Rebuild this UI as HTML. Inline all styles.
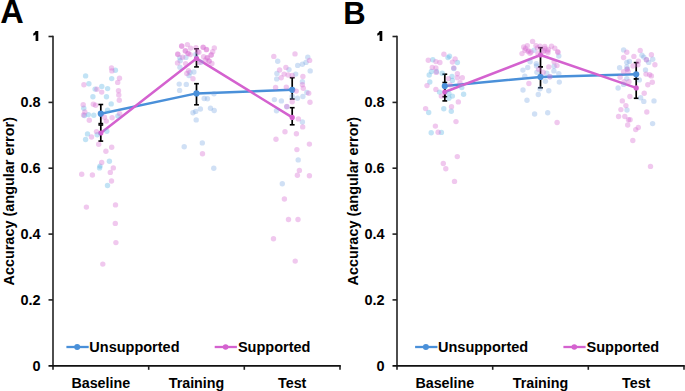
<!DOCTYPE html>
<html><head><meta charset="utf-8"><style>
html,body{margin:0;padding:0;background:#fff;}
svg{display:block;}
.t{font-family:"Liberation Sans", sans-serif;font-weight:bold;font-size:14px;fill:#000;}
.tk{font-size:14.5px;}
.ti{font-size:14.45px;}
.lg{font-size:14.5px;}
.cat{font-size:14.3px;}
.L{font-family:"Liberation Sans", sans-serif;font-weight:bold;font-size:32.5px;fill:#000;}
.db{fill:#5fb6e6;fill-opacity:.38;}
.dc{fill:#6ea0e1;fill-opacity:.32;}
.dp{fill:#d76ed2;fill-opacity:.38;}
</style></head><body>
<svg width="685" height="391" viewBox="0 0 685 391">
<line x1="53" y1="35.7" x2="53" y2="369.8" stroke="#3a3a3a" stroke-width="1.8"/>
<line x1="48.5" y1="36.5" x2="53" y2="36.5" stroke="#222" stroke-width="1.6"/>
<line x1="48.5" y1="365.8" x2="340.8" y2="365.8" stroke="#111" stroke-width="1.8"/>
<line x1="48.5" y1="299.9" x2="53" y2="299.9" stroke="#222" stroke-width="1.6"/>
<line x1="48.5" y1="234.1" x2="53" y2="234.1" stroke="#222" stroke-width="1.6"/>
<line x1="48.5" y1="168.2" x2="53" y2="168.2" stroke="#222" stroke-width="1.6"/>
<line x1="48.5" y1="102.4" x2="53" y2="102.4" stroke="#222" stroke-width="1.6"/>
<line x1="148.7" y1="365.8" x2="148.7" y2="369.8" stroke="#222" stroke-width="1.6"/>
<line x1="244.3" y1="365.8" x2="244.3" y2="369.8" stroke="#222" stroke-width="1.6"/>
<line x1="340.0" y1="365.8" x2="340.0" y2="369.8" stroke="#222" stroke-width="1.6"/>
<text x="40.7" y="370.5" text-anchor="end" class="t tk">0</text>
<text x="40.7" y="304.6" text-anchor="end" class="t tk">0.2</text>
<text x="40.7" y="238.8" text-anchor="end" class="t tk">0.4</text>
<text x="40.7" y="172.9" text-anchor="end" class="t tk">0.6</text>
<text x="40.7" y="107.1" text-anchor="end" class="t tk">0.8</text>
<path transform="translate(0,0)" d="M35.5 30.9 L38.3 30.9 L38.3 41.0 L35.6 41.0 L35.6 34.4 Q34.6 35.3 33.3 35.8 L33.3 33.4 Q35.0 32.6 35.5 30.9 Z" fill="#000"/>
<text x="100.8" y="387.6" text-anchor="middle" class="t cat">Baseline</text>
<text x="196.5" y="387.6" text-anchor="middle" class="t cat">Training</text>
<text x="292.2" y="387.6" text-anchor="middle" class="t cat">Test</text>
<text transform="translate(14.399999999999999,201.3) rotate(-90)" text-anchor="middle" class="t ti">Accuracy (angular error)</text>
<text x="0.2" y="22.8" class="L" style="font-size:32.5px">A</text>
<line x1="397" y1="35.7" x2="397" y2="369.8" stroke="#3a3a3a" stroke-width="1.8"/>
<line x1="392.5" y1="36.5" x2="397" y2="36.5" stroke="#222" stroke-width="1.6"/>
<line x1="392.5" y1="365.8" x2="684.8" y2="365.8" stroke="#111" stroke-width="1.8"/>
<line x1="392.5" y1="299.9" x2="397" y2="299.9" stroke="#222" stroke-width="1.6"/>
<line x1="392.5" y1="234.1" x2="397" y2="234.1" stroke="#222" stroke-width="1.6"/>
<line x1="392.5" y1="168.2" x2="397" y2="168.2" stroke="#222" stroke-width="1.6"/>
<line x1="392.5" y1="102.4" x2="397" y2="102.4" stroke="#222" stroke-width="1.6"/>
<line x1="492.7" y1="365.8" x2="492.7" y2="369.8" stroke="#222" stroke-width="1.6"/>
<line x1="588.3" y1="365.8" x2="588.3" y2="369.8" stroke="#222" stroke-width="1.6"/>
<line x1="684.0" y1="365.8" x2="684.0" y2="369.8" stroke="#222" stroke-width="1.6"/>
<text x="384.7" y="370.5" text-anchor="end" class="t tk">0</text>
<text x="384.7" y="304.6" text-anchor="end" class="t tk">0.2</text>
<text x="384.7" y="238.8" text-anchor="end" class="t tk">0.4</text>
<text x="384.7" y="172.9" text-anchor="end" class="t tk">0.6</text>
<text x="384.7" y="107.1" text-anchor="end" class="t tk">0.8</text>
<path transform="translate(344,0)" d="M35.5 30.9 L38.3 30.9 L38.3 41.0 L35.6 41.0 L35.6 34.4 Q34.6 35.3 33.3 35.8 L33.3 33.4 Q35.0 32.6 35.5 30.9 Z" fill="#000"/>
<text x="444.8" y="387.6" text-anchor="middle" class="t cat">Baseline</text>
<text x="540.5" y="387.6" text-anchor="middle" class="t cat">Training</text>
<text x="636.2" y="387.6" text-anchor="middle" class="t cat">Test</text>
<text transform="translate(358.4,201.3) rotate(-90)" text-anchor="middle" class="t ti">Accuracy (angular error)</text>
<text x="343.2" y="24.0" class="L" style="font-size:31px">B</text>
<line x1="100.8" y1="104.5" x2="100.8" y2="123.6" stroke="#000" stroke-width="1.7"/>
<line x1="98.4" y1="104.5" x2="103.2" y2="104.5" stroke="#000" stroke-width="1.6"/>
<line x1="98.4" y1="123.6" x2="103.2" y2="123.6" stroke="#000" stroke-width="1.6"/>
<line x1="196.5" y1="83.7" x2="196.5" y2="104.8" stroke="#000" stroke-width="1.7"/>
<line x1="194.1" y1="83.7" x2="198.9" y2="83.7" stroke="#000" stroke-width="1.6"/>
<line x1="194.1" y1="104.8" x2="198.9" y2="104.8" stroke="#000" stroke-width="1.6"/>
<line x1="292.2" y1="77.7" x2="292.2" y2="99.0" stroke="#000" stroke-width="1.7"/>
<line x1="289.8" y1="77.7" x2="294.6" y2="77.7" stroke="#000" stroke-width="1.6"/>
<line x1="289.8" y1="99.0" x2="294.6" y2="99.0" stroke="#000" stroke-width="1.6"/>
<line x1="100.8" y1="125.0" x2="100.8" y2="141.1" stroke="#000" stroke-width="1.7"/>
<line x1="98.4" y1="125.0" x2="103.2" y2="125.0" stroke="#000" stroke-width="1.6"/>
<line x1="98.4" y1="141.1" x2="103.2" y2="141.1" stroke="#000" stroke-width="1.6"/>
<line x1="196.5" y1="48.8" x2="196.5" y2="66.9" stroke="#000" stroke-width="1.7"/>
<line x1="194.1" y1="48.8" x2="198.9" y2="48.8" stroke="#000" stroke-width="1.6"/>
<line x1="194.1" y1="66.9" x2="198.9" y2="66.9" stroke="#000" stroke-width="1.6"/>
<line x1="292.2" y1="107.7" x2="292.2" y2="124.8" stroke="#000" stroke-width="1.7"/>
<line x1="289.8" y1="107.7" x2="294.6" y2="107.7" stroke="#000" stroke-width="1.6"/>
<line x1="289.8" y1="124.8" x2="294.6" y2="124.8" stroke="#000" stroke-width="1.6"/>
<line x1="444.8" y1="74.2" x2="444.8" y2="96.7" stroke="#000" stroke-width="1.7"/>
<line x1="442.4" y1="74.2" x2="447.2" y2="74.2" stroke="#000" stroke-width="1.6"/>
<line x1="442.4" y1="96.7" x2="447.2" y2="96.7" stroke="#000" stroke-width="1.6"/>
<line x1="540.5" y1="66.8" x2="540.5" y2="87.8" stroke="#000" stroke-width="1.7"/>
<line x1="538.1" y1="66.8" x2="542.9" y2="66.8" stroke="#000" stroke-width="1.6"/>
<line x1="538.1" y1="87.8" x2="542.9" y2="87.8" stroke="#000" stroke-width="1.6"/>
<line x1="636.2" y1="62.6" x2="636.2" y2="79.0" stroke="#000" stroke-width="1.7"/>
<line x1="633.8" y1="62.6" x2="638.6" y2="62.6" stroke="#000" stroke-width="1.6"/>
<line x1="633.8" y1="79.0" x2="638.6" y2="79.0" stroke="#000" stroke-width="1.6"/>
<line x1="444.8" y1="82.5" x2="444.8" y2="100.9" stroke="#000" stroke-width="1.7"/>
<line x1="442.4" y1="82.5" x2="447.2" y2="82.5" stroke="#000" stroke-width="1.6"/>
<line x1="442.4" y1="100.9" x2="447.2" y2="100.9" stroke="#000" stroke-width="1.6"/>
<line x1="540.5" y1="47.7" x2="540.5" y2="66.8" stroke="#000" stroke-width="1.7"/>
<line x1="538.1" y1="47.7" x2="542.9" y2="47.7" stroke="#000" stroke-width="1.6"/>
<line x1="538.1" y1="66.8" x2="542.9" y2="66.8" stroke="#000" stroke-width="1.6"/>
<line x1="636.2" y1="78.8" x2="636.2" y2="98.3" stroke="#000" stroke-width="1.7"/>
<line x1="633.8" y1="78.8" x2="638.6" y2="78.8" stroke="#000" stroke-width="1.6"/>
<line x1="633.8" y1="98.3" x2="638.6" y2="98.3" stroke="#000" stroke-width="1.6"/>
<polyline points="100.8,113.7 196.5,93.4 292.2,89.8" fill="none" stroke="#4a90d9" stroke-width="2.5" stroke-linejoin="round"/>
<circle cx="100.8" cy="113.7" r="3.1" fill="#4a90d9"/>
<circle cx="196.5" cy="93.4" r="3.1" fill="#4a90d9"/>
<circle cx="292.2" cy="89.8" r="3.1" fill="#4a90d9"/>
<polyline points="100.8,133.0 196.5,58.4 292.2,117.4" fill="none" stroke="#d462cf" stroke-width="2.5" stroke-linejoin="round"/>
<circle cx="100.8" cy="133.0" r="2.6" fill="#d462cf"/>
<circle cx="196.5" cy="58.4" r="2.6" fill="#d462cf"/>
<circle cx="292.2" cy="117.4" r="2.6" fill="#d462cf"/>
<polyline points="444.8,86.0 540.5,76.9 636.2,74.3" fill="none" stroke="#4a90d9" stroke-width="2.5" stroke-linejoin="round"/>
<circle cx="444.8" cy="86.0" r="3.1" fill="#4a90d9"/>
<circle cx="540.5" cy="76.9" r="3.1" fill="#4a90d9"/>
<circle cx="636.2" cy="74.3" r="3.1" fill="#4a90d9"/>
<polyline points="444.8,92.0 540.5,55.0 636.2,87.9" fill="none" stroke="#d462cf" stroke-width="2.5" stroke-linejoin="round"/>
<circle cx="444.8" cy="92.0" r="2.6" fill="#d462cf"/>
<circle cx="540.5" cy="55.0" r="2.6" fill="#d462cf"/>
<circle cx="636.2" cy="87.9" r="2.6" fill="#d462cf"/>
<line x1="66.4" y1="347.0" x2="88.7" y2="347.0" stroke="#4a90d9" stroke-width="2.3"/>
<circle cx="77.2" cy="347.0" r="3" fill="#4a90d9"/>
<text x="89.3" y="351.6" class="t lg">Unsupported</text>
<line x1="214.7" y1="347.0" x2="236.89999999999998" y2="347.0" stroke="#d462cf" stroke-width="2.3"/>
<circle cx="225.6" cy="347.0" r="2.8" fill="#d462cf"/>
<text x="237.9" y="351.6" class="t lg">Supported</text>
<line x1="415.09999999999997" y1="347.0" x2="437.4" y2="347.0" stroke="#4a90d9" stroke-width="2.3"/>
<circle cx="425.9" cy="347.0" r="3" fill="#4a90d9"/>
<text x="438.0" y="351.6" class="t lg">Unsupported</text>
<line x1="563.4" y1="347.0" x2="585.6" y2="347.0" stroke="#d462cf" stroke-width="2.3"/>
<circle cx="574.3" cy="347.0" r="2.8" fill="#d462cf"/>
<text x="586.6" y="351.6" class="t lg">Supported</text>
<circle cx="85.6" cy="75.9" r="2.7" class="db"/>
<circle cx="115.4" cy="70.3" r="2.7" class="db"/>
<circle cx="111.7" cy="78.6" r="2.7" class="db"/>
<circle cx="88.9" cy="83.7" r="2.7" class="db"/>
<circle cx="101.8" cy="86.4" r="2.7" class="db"/>
<circle cx="107.6" cy="88.6" r="2.7" class="db"/>
<circle cx="95.1" cy="89.1" r="2.7" class="db"/>
<circle cx="92.9" cy="96.7" r="2.7" class="db"/>
<circle cx="106.5" cy="96.7" r="2.7" class="db"/>
<circle cx="111.2" cy="103.9" r="2.7" class="db"/>
<circle cx="83.8" cy="108.3" r="2.7" class="db"/>
<circle cx="84.5" cy="115.5" r="2.7" class="db"/>
<circle cx="88.4" cy="114.6" r="2.7" class="db"/>
<circle cx="93.8" cy="115.3" r="2.7" class="db"/>
<circle cx="107.6" cy="110.1" r="2.7" class="db"/>
<circle cx="117.9" cy="115.9" r="2.7" class="db"/>
<circle cx="87.5" cy="133.9" r="2.7" class="db"/>
<circle cx="85.6" cy="139.5" r="2.7" class="db"/>
<circle cx="97.2" cy="134.8" r="2.7" class="db"/>
<circle cx="106.8" cy="131.2" r="2.7" class="db"/>
<circle cx="109.4" cy="161.2" r="2.7" class="db"/>
<circle cx="100.0" cy="166.1" r="2.7" class="db"/>
<circle cx="99.6" cy="167.9" r="2.7" class="db"/>
<circle cx="107.5" cy="185.5" r="2.7" class="db"/>
<circle cx="179.8" cy="57.8" r="2.7" class="dc"/>
<circle cx="185.9" cy="57.4" r="2.7" class="dc"/>
<circle cx="180.2" cy="60.8" r="2.7" class="dc"/>
<circle cx="179.9" cy="67.2" r="2.7" class="dc"/>
<circle cx="195.8" cy="54.5" r="2.7" class="dc"/>
<circle cx="201.0" cy="62.2" r="2.7" class="dc"/>
<circle cx="189.9" cy="72.5" r="2.7" class="dc"/>
<circle cx="193.9" cy="72.0" r="2.7" class="dc"/>
<circle cx="189.0" cy="75.6" r="2.7" class="dc"/>
<circle cx="179.2" cy="84.1" r="2.7" class="dc"/>
<circle cx="186.3" cy="84.4" r="2.7" class="dc"/>
<circle cx="179.6" cy="90.4" r="2.7" class="dc"/>
<circle cx="204.2" cy="98.5" r="2.7" class="dc"/>
<circle cx="207.5" cy="98.8" r="2.7" class="dc"/>
<circle cx="214.0" cy="93.8" r="2.7" class="dc"/>
<circle cx="200.4" cy="109.0" r="2.7" class="dc"/>
<circle cx="195.7" cy="111.4" r="2.7" class="dc"/>
<circle cx="193.0" cy="112.8" r="2.7" class="dc"/>
<circle cx="210.5" cy="108.3" r="2.7" class="dc"/>
<circle cx="214.2" cy="110.5" r="2.7" class="dc"/>
<circle cx="196.2" cy="119.9" r="2.7" class="dc"/>
<circle cx="184.2" cy="146.7" r="2.7" class="dc"/>
<circle cx="202.3" cy="142.9" r="2.7" class="dc"/>
<circle cx="213.8" cy="168.2" r="2.7" class="dc"/>
<circle cx="277.7" cy="61.3" r="2.7" class="dc"/>
<circle cx="307.8" cy="57.3" r="2.7" class="dc"/>
<circle cx="306.0" cy="62.4" r="2.7" class="dc"/>
<circle cx="302.4" cy="64.2" r="2.7" class="dc"/>
<circle cx="297.7" cy="65.4" r="2.7" class="dc"/>
<circle cx="289.0" cy="69.6" r="2.7" class="dc"/>
<circle cx="310.2" cy="70.9" r="2.7" class="dc"/>
<circle cx="276.9" cy="73.4" r="2.7" class="dc"/>
<circle cx="295.7" cy="74.1" r="2.7" class="dc"/>
<circle cx="276.7" cy="78.9" r="2.7" class="dc"/>
<circle cx="302.4" cy="81.7" r="2.7" class="dc"/>
<circle cx="306.9" cy="92.4" r="2.7" class="dc"/>
<circle cx="302.9" cy="96.5" r="2.7" class="dc"/>
<circle cx="297.5" cy="98.3" r="2.7" class="dc"/>
<circle cx="292.2" cy="96.5" r="2.7" class="dc"/>
<circle cx="274.4" cy="99.6" r="2.7" class="dc"/>
<circle cx="281.4" cy="100.9" r="2.7" class="dc"/>
<circle cx="286.8" cy="106.8" r="2.7" class="dc"/>
<circle cx="276.5" cy="110.8" r="2.7" class="dc"/>
<circle cx="302.4" cy="122.0" r="2.7" class="dc"/>
<circle cx="298.2" cy="159.9" r="2.7" class="dc"/>
<circle cx="282.3" cy="183.7" r="2.7" class="dc"/>
<circle cx="448.0" cy="57.6" r="2.7" class="db"/>
<circle cx="449.5" cy="56.2" r="2.7" class="db"/>
<circle cx="432.8" cy="59.8" r="2.7" class="db"/>
<circle cx="457.4" cy="62.5" r="2.7" class="db"/>
<circle cx="453.8" cy="68.5" r="2.7" class="db"/>
<circle cx="431.4" cy="71.5" r="2.7" class="db"/>
<circle cx="436.5" cy="71.5" r="2.7" class="db"/>
<circle cx="429.2" cy="75.0" r="2.7" class="db"/>
<circle cx="442.2" cy="73.3" r="2.7" class="db"/>
<circle cx="452.0" cy="76.4" r="2.7" class="db"/>
<circle cx="452.4" cy="80.4" r="2.7" class="db"/>
<circle cx="429.8" cy="82.0" r="2.7" class="db"/>
<circle cx="439.5" cy="92.1" r="2.7" class="db"/>
<circle cx="448.9" cy="93.4" r="2.7" class="db"/>
<circle cx="452.4" cy="96.1" r="2.7" class="db"/>
<circle cx="448.9" cy="98.3" r="2.7" class="db"/>
<circle cx="463.6" cy="94.3" r="2.7" class="db"/>
<circle cx="461.8" cy="87.6" r="2.7" class="db"/>
<circle cx="428.7" cy="112.5" r="2.7" class="db"/>
<circle cx="443.8" cy="108.8" r="2.7" class="db"/>
<circle cx="451.3" cy="111.3" r="2.7" class="db"/>
<circle cx="431.2" cy="132.8" r="2.7" class="db"/>
<circle cx="441.4" cy="132.4" r="2.7" class="db"/>
<circle cx="534.0" cy="50.2" r="2.7" class="dc"/>
<circle cx="558.8" cy="56.0" r="2.7" class="dc"/>
<circle cx="554.1" cy="66.2" r="2.7" class="dc"/>
<circle cx="530.1" cy="61.8" r="2.7" class="dc"/>
<circle cx="527.7" cy="67.5" r="2.7" class="dc"/>
<circle cx="536.3" cy="63.8" r="2.7" class="dc"/>
<circle cx="536.5" cy="66.0" r="2.7" class="dc"/>
<circle cx="522.9" cy="70.1" r="2.7" class="dc"/>
<circle cx="536.9" cy="72.3" r="2.7" class="dc"/>
<circle cx="546.8" cy="73.2" r="2.7" class="dc"/>
<circle cx="553.9" cy="70.9" r="2.7" class="dc"/>
<circle cx="558.8" cy="73.6" r="2.7" class="dc"/>
<circle cx="549.9" cy="76.8" r="2.7" class="dc"/>
<circle cx="524.8" cy="76.3" r="2.7" class="dc"/>
<circle cx="545.4" cy="81.2" r="2.7" class="dc"/>
<circle cx="559.3" cy="82.1" r="2.7" class="dc"/>
<circle cx="523.0" cy="90.0" r="2.7" class="dc"/>
<circle cx="540.0" cy="88.8" r="2.7" class="dc"/>
<circle cx="548.8" cy="90.8" r="2.7" class="dc"/>
<circle cx="538.3" cy="94.5" r="2.7" class="dc"/>
<circle cx="527.0" cy="100.2" r="2.7" class="dc"/>
<circle cx="534.6" cy="114.0" r="2.7" class="dc"/>
<circle cx="547.7" cy="112.7" r="2.7" class="dc"/>
<circle cx="623.6" cy="49.9" r="2.7" class="dc"/>
<circle cx="642.0" cy="55.3" r="2.7" class="dc"/>
<circle cx="643.8" cy="57.1" r="2.7" class="dc"/>
<circle cx="646.4" cy="59.8" r="2.7" class="dc"/>
<circle cx="648.7" cy="62.4" r="2.7" class="dc"/>
<circle cx="652.7" cy="59.3" r="2.7" class="dc"/>
<circle cx="626.8" cy="62.4" r="2.7" class="dc"/>
<circle cx="629.4" cy="61.5" r="2.7" class="dc"/>
<circle cx="626.8" cy="66.9" r="2.7" class="dc"/>
<circle cx="627.2" cy="69.1" r="2.7" class="dc"/>
<circle cx="619.6" cy="67.8" r="2.7" class="dc"/>
<circle cx="645.5" cy="70.0" r="2.7" class="dc"/>
<circle cx="626.8" cy="78.6" r="2.7" class="dc"/>
<circle cx="623.6" cy="84.4" r="2.7" class="dc"/>
<circle cx="618.1" cy="88.0" r="2.7" class="dc"/>
<circle cx="639.3" cy="79.9" r="2.7" class="dc"/>
<circle cx="640.6" cy="97.8" r="2.7" class="dc"/>
<circle cx="643.8" cy="101.4" r="2.7" class="dc"/>
<circle cx="654.0" cy="100.9" r="2.7" class="dc"/>
<circle cx="627.0" cy="110.0" r="2.7" class="dc"/>
<circle cx="652.6" cy="123.6" r="2.7" class="dc"/>
<circle cx="111.5" cy="67.9" r="2.7" class="dp"/>
<circle cx="111.9" cy="70.9" r="2.7" class="dp"/>
<circle cx="119.5" cy="78.3" r="2.7" class="dp"/>
<circle cx="117.7" cy="82.4" r="2.7" class="dp"/>
<circle cx="83.9" cy="84.8" r="2.7" class="dp"/>
<circle cx="96.9" cy="89.3" r="2.7" class="dp"/>
<circle cx="101.7" cy="92.1" r="2.7" class="dp"/>
<circle cx="118.5" cy="90.7" r="2.7" class="dp"/>
<circle cx="118.8" cy="94.9" r="2.7" class="dp"/>
<circle cx="119.3" cy="100.3" r="2.7" class="dp"/>
<circle cx="83.2" cy="104.8" r="2.7" class="dp"/>
<circle cx="93.3" cy="104.3" r="2.7" class="dp"/>
<circle cx="95.6" cy="105.2" r="2.7" class="dp"/>
<circle cx="84.8" cy="111.9" r="2.7" class="dp"/>
<circle cx="83.5" cy="115.0" r="2.7" class="dp"/>
<circle cx="89.3" cy="120.2" r="2.7" class="dp"/>
<circle cx="104.5" cy="117.3" r="2.7" class="dp"/>
<circle cx="106.3" cy="121.1" r="2.7" class="dp"/>
<circle cx="112.1" cy="117.7" r="2.7" class="dp"/>
<circle cx="119.7" cy="113.7" r="2.7" class="dp"/>
<circle cx="91.5" cy="137.0" r="2.7" class="dp"/>
<circle cx="96.5" cy="131.6" r="2.7" class="dp"/>
<circle cx="98.7" cy="144.2" r="2.7" class="dp"/>
<circle cx="111.7" cy="147.3" r="2.7" class="dp"/>
<circle cx="105.9" cy="151.2" r="2.7" class="dp"/>
<circle cx="101.7" cy="162.5" r="2.7" class="dp"/>
<circle cx="113.3" cy="167.9" r="2.7" class="dp"/>
<circle cx="110.3" cy="172.4" r="2.7" class="dp"/>
<circle cx="81.7" cy="174.3" r="2.7" class="dp"/>
<circle cx="92.4" cy="175.0" r="2.7" class="dp"/>
<circle cx="111.5" cy="181.0" r="2.7" class="dp"/>
<circle cx="86.4" cy="207.1" r="2.7" class="dp"/>
<circle cx="115.5" cy="204.9" r="2.7" class="dp"/>
<circle cx="115.3" cy="223.4" r="2.7" class="dp"/>
<circle cx="115.9" cy="242.6" r="2.7" class="dp"/>
<circle cx="102.8" cy="264.1" r="2.7" class="dp"/>
<circle cx="181.6" cy="46.0" r="2.7" class="dp"/>
<circle cx="187.4" cy="44.6" r="2.7" class="dp"/>
<circle cx="190.6" cy="48.1" r="2.7" class="dp"/>
<circle cx="196.0" cy="47.8" r="2.7" class="dp"/>
<circle cx="185.5" cy="50.8" r="2.7" class="dp"/>
<circle cx="188.0" cy="53.6" r="2.7" class="dp"/>
<circle cx="190.2" cy="54.6" r="2.7" class="dp"/>
<circle cx="177.7" cy="54.0" r="2.7" class="dp"/>
<circle cx="182.6" cy="57.2" r="2.7" class="dp"/>
<circle cx="177.5" cy="62.9" r="2.7" class="dp"/>
<circle cx="185.6" cy="63.6" r="2.7" class="dp"/>
<circle cx="198.9" cy="52.3" r="2.7" class="dp"/>
<circle cx="203.0" cy="47.1" r="2.7" class="dp"/>
<circle cx="206.6" cy="49.4" r="2.7" class="dp"/>
<circle cx="214.3" cy="47.9" r="2.7" class="dp"/>
<circle cx="212.7" cy="51.8" r="2.7" class="dp"/>
<circle cx="203.6" cy="56.8" r="2.7" class="dp"/>
<circle cx="207.4" cy="57.6" r="2.7" class="dp"/>
<circle cx="211.4" cy="54.8" r="2.7" class="dp"/>
<circle cx="205.4" cy="60.1" r="2.7" class="dp"/>
<circle cx="209.2" cy="61.3" r="2.7" class="dp"/>
<circle cx="211.9" cy="63.4" r="2.7" class="dp"/>
<circle cx="199.3" cy="62.5" r="2.7" class="dp"/>
<circle cx="188.5" cy="70.7" r="2.7" class="dp"/>
<circle cx="186.8" cy="73.4" r="2.7" class="dp"/>
<circle cx="193.0" cy="78.8" r="2.7" class="dp"/>
<circle cx="202.5" cy="153.8" r="2.7" class="dp"/>
<circle cx="273.8" cy="56.4" r="2.7" class="dp"/>
<circle cx="295.0" cy="53.9" r="2.7" class="dp"/>
<circle cx="309.6" cy="60.4" r="2.7" class="dp"/>
<circle cx="285.9" cy="67.4" r="2.7" class="dp"/>
<circle cx="279.6" cy="70.0" r="2.7" class="dp"/>
<circle cx="284.1" cy="74.1" r="2.7" class="dp"/>
<circle cx="288.1" cy="75.0" r="2.7" class="dp"/>
<circle cx="292.2" cy="75.4" r="2.7" class="dp"/>
<circle cx="302.9" cy="76.5" r="2.7" class="dp"/>
<circle cx="281.2" cy="77.8" r="2.7" class="dp"/>
<circle cx="302.4" cy="84.8" r="2.7" class="dp"/>
<circle cx="303.3" cy="88.2" r="2.7" class="dp"/>
<circle cx="275.6" cy="87.5" r="2.7" class="dp"/>
<circle cx="286.3" cy="87.1" r="2.7" class="dp"/>
<circle cx="296.2" cy="91.1" r="2.7" class="dp"/>
<circle cx="308.7" cy="93.3" r="2.7" class="dp"/>
<circle cx="292.2" cy="101.8" r="2.7" class="dp"/>
<circle cx="310.0" cy="102.3" r="2.7" class="dp"/>
<circle cx="286.8" cy="106.5" r="2.7" class="dp"/>
<circle cx="298.4" cy="118.9" r="2.7" class="dp"/>
<circle cx="302.7" cy="126.9" r="2.7" class="dp"/>
<circle cx="285.0" cy="131.8" r="2.7" class="dp"/>
<circle cx="296.4" cy="133.8" r="2.7" class="dp"/>
<circle cx="276.0" cy="139.3" r="2.7" class="dp"/>
<circle cx="309.4" cy="144.1" r="2.7" class="dp"/>
<circle cx="296.9" cy="149.6" r="2.7" class="dp"/>
<circle cx="299.4" cy="170.4" r="2.7" class="dp"/>
<circle cx="297.4" cy="175.2" r="2.7" class="dp"/>
<circle cx="309.4" cy="175.7" r="2.7" class="dp"/>
<circle cx="284.4" cy="199.0" r="2.7" class="dp"/>
<circle cx="288.5" cy="219.5" r="2.7" class="dp"/>
<circle cx="298.0" cy="219.5" r="2.7" class="dp"/>
<circle cx="273.5" cy="238.7" r="2.7" class="dp"/>
<circle cx="295.2" cy="261.1" r="2.7" class="dp"/>
<circle cx="443.9" cy="54.3" r="2.7" class="dp"/>
<circle cx="428.3" cy="60.3" r="2.7" class="dp"/>
<circle cx="435.9" cy="61.6" r="2.7" class="dp"/>
<circle cx="439.9" cy="62.5" r="2.7" class="dp"/>
<circle cx="455.1" cy="58.9" r="2.7" class="dp"/>
<circle cx="452.4" cy="62.1" r="2.7" class="dp"/>
<circle cx="453.8" cy="67.9" r="2.7" class="dp"/>
<circle cx="432.3" cy="67.4" r="2.7" class="dp"/>
<circle cx="435.9" cy="67.9" r="2.7" class="dp"/>
<circle cx="436.3" cy="72.4" r="2.7" class="dp"/>
<circle cx="457.4" cy="73.7" r="2.7" class="dp"/>
<circle cx="448.4" cy="78.6" r="2.7" class="dp"/>
<circle cx="457.4" cy="77.7" r="2.7" class="dp"/>
<circle cx="462.3" cy="77.7" r="2.7" class="dp"/>
<circle cx="427.0" cy="85.6" r="2.7" class="dp"/>
<circle cx="435.9" cy="89.4" r="2.7" class="dp"/>
<circle cx="441.3" cy="96.1" r="2.7" class="dp"/>
<circle cx="458.3" cy="101.9" r="2.7" class="dp"/>
<circle cx="460.0" cy="82.7" r="2.7" class="dp"/>
<circle cx="450.2" cy="84.9" r="2.7" class="dp"/>
<circle cx="425.6" cy="108.6" r="2.7" class="dp"/>
<circle cx="451.5" cy="106.8" r="2.7" class="dp"/>
<circle cx="456.0" cy="121.6" r="2.7" class="dp"/>
<circle cx="435.4" cy="126.1" r="2.7" class="dp"/>
<circle cx="438.1" cy="132.2" r="2.7" class="dp"/>
<circle cx="457.3" cy="156.6" r="2.7" class="dp"/>
<circle cx="443.3" cy="163.5" r="2.7" class="dp"/>
<circle cx="445.8" cy="168.8" r="2.7" class="dp"/>
<circle cx="454.5" cy="181.4" r="2.7" class="dp"/>
<circle cx="532.6" cy="41.4" r="2.7" class="dp"/>
<circle cx="527.3" cy="45.7" r="2.7" class="dp"/>
<circle cx="523.7" cy="47.0" r="2.7" class="dp"/>
<circle cx="524.9" cy="50.2" r="2.7" class="dp"/>
<circle cx="528.6" cy="50.6" r="2.7" class="dp"/>
<circle cx="522.0" cy="53.6" r="2.7" class="dp"/>
<circle cx="530.0" cy="53.2" r="2.7" class="dp"/>
<circle cx="536.0" cy="45.6" r="2.7" class="dp"/>
<circle cx="540.0" cy="46.3" r="2.7" class="dp"/>
<circle cx="544.8" cy="46.4" r="2.7" class="dp"/>
<circle cx="544.0" cy="50.6" r="2.7" class="dp"/>
<circle cx="548.5" cy="49.5" r="2.7" class="dp"/>
<circle cx="551.5" cy="46.2" r="2.7" class="dp"/>
<circle cx="554.8" cy="48.2" r="2.7" class="dp"/>
<circle cx="548.0" cy="52.8" r="2.7" class="dp"/>
<circle cx="557.7" cy="51.6" r="2.7" class="dp"/>
<circle cx="558.0" cy="52.5" r="2.7" class="dp"/>
<circle cx="538.0" cy="53.6" r="2.7" class="dp"/>
<circle cx="554.1" cy="61.8" r="2.7" class="dp"/>
<circle cx="548.8" cy="66.9" r="2.7" class="dp"/>
<circle cx="538.7" cy="69.2" r="2.7" class="dp"/>
<circle cx="543.2" cy="72.3" r="2.7" class="dp"/>
<circle cx="557.0" cy="65.6" r="2.7" class="dp"/>
<circle cx="549.9" cy="76.8" r="2.7" class="dp"/>
<circle cx="528.9" cy="83.5" r="2.7" class="dp"/>
<circle cx="557.1" cy="122.5" r="2.7" class="dp"/>
<circle cx="626.8" cy="52.2" r="2.7" class="dp"/>
<circle cx="640.2" cy="50.4" r="2.7" class="dp"/>
<circle cx="623.6" cy="57.5" r="2.7" class="dp"/>
<circle cx="633.9" cy="56.4" r="2.7" class="dp"/>
<circle cx="651.4" cy="54.8" r="2.7" class="dp"/>
<circle cx="646.4" cy="59.8" r="2.7" class="dp"/>
<circle cx="654.9" cy="64.7" r="2.7" class="dp"/>
<circle cx="638.4" cy="61.1" r="2.7" class="dp"/>
<circle cx="637.9" cy="64.7" r="2.7" class="dp"/>
<circle cx="633.0" cy="66.0" r="2.7" class="dp"/>
<circle cx="627.2" cy="69.1" r="2.7" class="dp"/>
<circle cx="623.6" cy="71.8" r="2.7" class="dp"/>
<circle cx="628.1" cy="71.4" r="2.7" class="dp"/>
<circle cx="646.0" cy="74.1" r="2.7" class="dp"/>
<circle cx="649.6" cy="74.8" r="2.7" class="dp"/>
<circle cx="651.4" cy="75.9" r="2.7" class="dp"/>
<circle cx="620.1" cy="77.2" r="2.7" class="dp"/>
<circle cx="624.1" cy="81.7" r="2.7" class="dp"/>
<circle cx="629.0" cy="81.7" r="2.7" class="dp"/>
<circle cx="647.8" cy="84.8" r="2.7" class="dp"/>
<circle cx="652.3" cy="82.2" r="2.7" class="dp"/>
<circle cx="644.2" cy="93.3" r="2.7" class="dp"/>
<circle cx="629.9" cy="96.5" r="2.7" class="dp"/>
<circle cx="622.3" cy="100.9" r="2.7" class="dp"/>
<circle cx="625.9" cy="105.6" r="2.7" class="dp"/>
<circle cx="620.9" cy="109.6" r="2.7" class="dp"/>
<circle cx="646.8" cy="112.0" r="2.7" class="dp"/>
<circle cx="618.6" cy="116.5" r="2.7" class="dp"/>
<circle cx="624.8" cy="116.5" r="2.7" class="dp"/>
<circle cx="628.5" cy="119.8" r="2.7" class="dp"/>
<circle cx="630.1" cy="119.8" r="2.7" class="dp"/>
<circle cx="627.7" cy="125.0" r="2.7" class="dp"/>
<circle cx="638.3" cy="127.5" r="2.7" class="dp"/>
<circle cx="635.7" cy="129.6" r="2.7" class="dp"/>
<circle cx="632.8" cy="140.5" r="2.7" class="dp"/>
<circle cx="650.5" cy="166.4" r="2.7" class="dp"/>
<circle cx="197.6" cy="51.8" r="2.7" class="dp"/>
<circle cx="181.8" cy="46.3" r="2.7" class="dp"/>
<circle cx="188.3" cy="53.3" r="2.7" class="dp"/>
<circle cx="185.2" cy="51.0" r="2.7" class="dp"/>
<circle cx="177.9" cy="54.4" r="2.7" class="dp"/>
<circle cx="203.3" cy="47.4" r="2.7" class="dp"/>
<circle cx="206.3" cy="49.8" r="2.7" class="dp"/>
<circle cx="207.0" cy="57.9" r="2.7" class="dp"/>
<circle cx="211.0" cy="55.3" r="2.7" class="dp"/>
<circle cx="209.0" cy="61.0" r="2.7" class="dp"/>
<circle cx="525.5" cy="48.5" r="2.7" class="dp"/>
<circle cx="528.0" cy="51.5" r="2.7" class="dp"/>
<circle cx="531.0" cy="52.0" r="2.7" class="dp"/>
<circle cx="537.5" cy="48.0" r="2.7" class="dp"/>
<circle cx="545.0" cy="48.5" r="2.7" class="dp"/>
<circle cx="547.5" cy="51.0" r="2.7" class="dp"/>
<circle cx="543.5" cy="51.5" r="2.7" class="dp"/>
</svg>
</body></html>
